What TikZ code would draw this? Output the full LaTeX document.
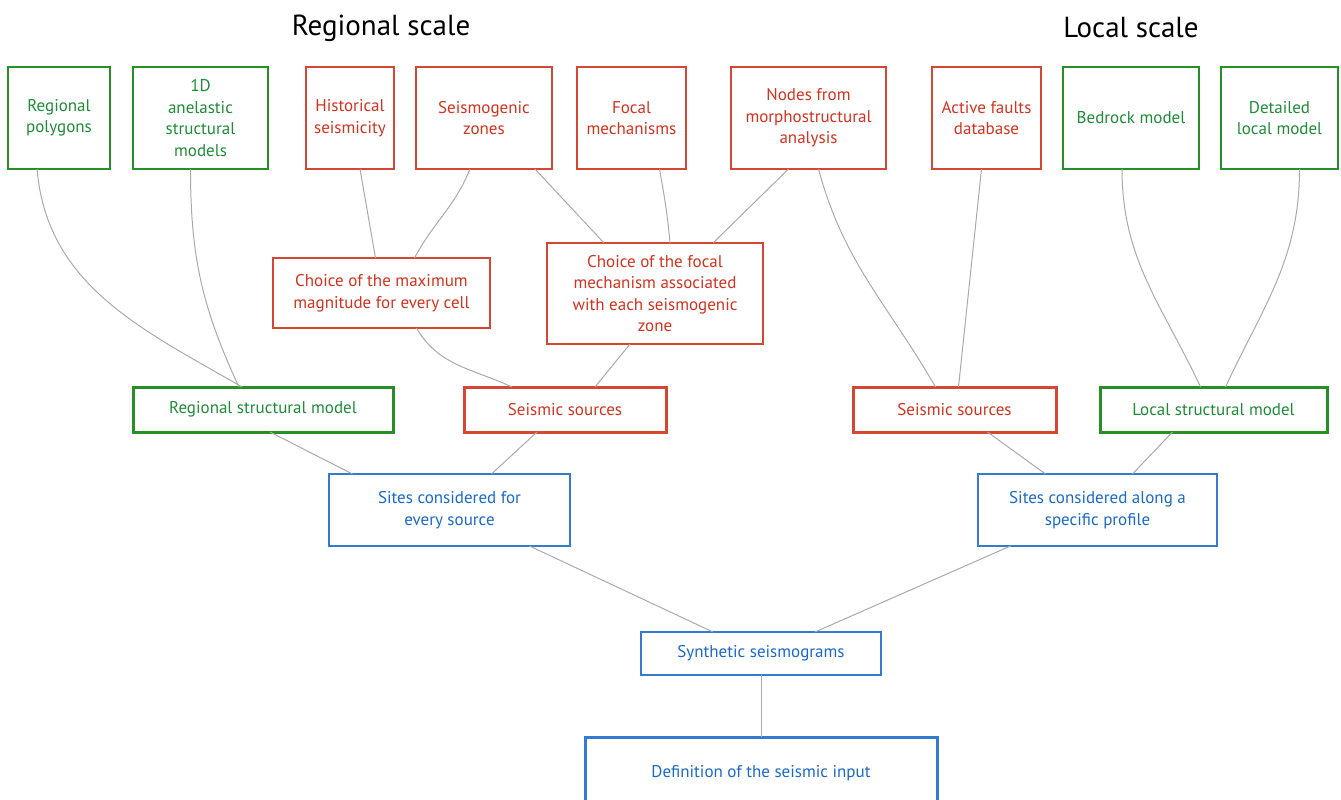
\documentclass[tikz,border=0pt]{standalone}
\usepackage{fontspec}
\setmainfont{PT Sans}
\usepackage{xcolor}
\usepackage{tikz}
\usetikzlibrary{positioning}
\definecolor{greentext}{RGB}{30,140,55}
\definecolor{greenline}{RGB}{0,125,0}
\definecolor{redtext}{RGB}{210,50,30}
\definecolor{redline}{RGB}{205,40,15}
\definecolor{bluetext}{RGB}{25,105,200}
\definecolor{blueline}{RGB}{15,100,200}
\definecolor{linkgray}{RGB}{170,170,170}
\tikzstyle{box} = [rectangle, draw, align=center, inner sep=2pt, outer sep=0pt,
    line width=1.2pt, font=\fontsize{17}{21.5}\selectfont]
\tikzstyle{green_box} = [box, draw=greenline!85, text=greentext]
\tikzstyle{red_box} = [box, draw=redline!85, text=redtext]
\tikzstyle{blue_box} = [box, draw=blueline!85, text=bluetext]
\tikzstyle{thick_box} = [line width=3pt]
\tikzstyle{title} = [font=\fontsize{29}{34}\selectfont, text=black]
\tikzstyle{line} = [draw, linkgray, line width=1pt]

\begin{document}
\begin{tikzpicture}[x=1pt, y=-1pt]
    \useasboundingbox (0,0) rectangle (1341,800);
    % Place nodes
    \node [title] (regtitle) at (381,28) {Regional scale};
    \node [title] (loctitle) at (1131,28) {Local scale};

    \node [green_box, minimum width=102pt, minimum height=102pt] (rpoly) at (59,118) {Regional\\polygons};
    \node [green_box, minimum width=135pt, minimum height=102pt, right=23pt of rpoly] (oned) {1D\\anelastic\\structural\\models};
    \node [red_box, minimum width=88pt, minimum height=102pt, right=38pt of oned] (hist) {Historical\\seismicity};
    \node [red_box, minimum width=136pt, minimum height=102pt, right=22pt of hist] (szones) {Seismogenic\\zones};
    \node [red_box, minimum width=109pt, minimum height=102pt, right=25pt of szones] (focal) {Focal\\mechanisms};
    \node [red_box, minimum width=155pt, minimum height=102pt, right=45pt of focal] (morpho) {Nodes from\\morphostructural\\analysis};
    \node [red_box, minimum width=109pt, minimum height=102pt, right=46pt of morpho] (faults) {Active faults\\database};
    \node [green_box, minimum width=136pt, minimum height=102pt, right=22pt of faults] (bedrock) {Bedrock model};
    \node [green_box, minimum width=117pt, minimum height=102pt, right=22pt of bedrock] (detail) {Detailed\\local model};

    \node [red_box, minimum width=217pt, minimum height=70pt] (maxmag) at (381.5,293) {Choice of the maximum\\magnitude for every cell};
    \node [red_box, minimum width=216pt, minimum height=101pt] (choicef) at (655,293.5) {Choice of the focal\\mechanism associated\\with each seismogenic\\zone};

    \node [green_box, thick_box, minimum width=260pt, minimum height=45pt] (rsm) at (263,409.5) {Regional structural model};
    \node [red_box, thick_box, minimum width=202pt, minimum height=45pt] (ssreg) at (565,409.5) {Seismic sources};
    \node [red_box, thick_box, minimum width=203pt, minimum height=45pt] (ssloc) at (954.5,409.5) {Seismic sources};
    \node [green_box, thick_box, minimum width=227pt, minimum height=45pt] (lsm) at (1213.5,409.5) {Local structural model};

    \node [blue_box, minimum width=241pt, minimum height=72pt] (sitesreg) at (449.5,510) {Sites considered for\\every source};
    \node [blue_box, minimum width=239pt, minimum height=72pt] (sitesloc) at (1097.5,510) {Sites considered along a\\specific profile};

    \node [blue_box, minimum width=240pt, minimum height=43pt] (synth) at (761,653.5) {Synthetic seismograms};
    \node [blue_box, thick_box, minimum width=352pt, minimum height=72pt] (input) at (761,773) {Definition of the seismic input};

    % Draw edges
    \path [line] ([xshift=-22pt]rpoly.south) to[out=-85,in=150] ([xshift=-21pt]rsm.north);
    \path [line] ([xshift=-10pt]oned.south) to[out=-90,in=115] ([xshift=-24pt]rsm.north);
    \path [line] ([xshift=10pt]hist.south) -- ([xshift=-6pt]maxmag.north);
    \path [line] ([xshift=-14pt]szones.south) to[out=-112,in=62] ([xshift=33pt]maxmag.north);
    \path [line] ([xshift=51pt]szones.south) -- ([xshift=-51pt]choicef.north);
    \path [line] ([xshift=28pt]focal.south) to[out=-80,in=95] ([xshift=15pt]choicef.north);
    \path [line] ([xshift=-20pt]morpho.south) -- ([xshift=58pt]choicef.north);
    \path [line] ([xshift=10pt]morpho.south) to[out=-75,in=120] ([xshift=-19pt]ssloc.north);
    \path [line] ([xshift=-5pt]faults.south) -- ([xshift=4pt]ssloc.north);
    \path [line] ([xshift=-9pt]bedrock.south) to[out=-90,in=115] ([xshift=-13pt]lsm.north);
    \path [line] ([xshift=20pt]detail.south) to[out=-90,in=65] ([xshift=12pt]lsm.north);
    \path [line] ([xshift=35pt]maxmag.south) to[out=-60,in=155] ([xshift=-53pt]ssreg.north);
    \path [line] ([xshift=-25pt]choicef.south) -- ([xshift=30pt]ssreg.north);
    \path [line] ([xshift=7pt]rsm.south) -- ([xshift=-97pt]sitesreg.north);
    \path [line] ([xshift=-28pt]ssreg.south) -- ([xshift=42pt]sitesreg.north);
    \path [line] ([xshift=33pt]ssloc.south) -- ([xshift=-52pt]sitesloc.north);
    \path [line] ([xshift=-41pt]lsm.south) -- ([xshift=35pt]sitesloc.north);
    \path [line] ([xshift=80pt]sitesreg.south) -- ([xshift=-48pt]synth.north);
    \path [line] ([xshift=-87pt]sitesloc.south) -- ([xshift=54pt]synth.north);
    \path [line] (synth) -- (input);

\end{tikzpicture}
\end{document}
